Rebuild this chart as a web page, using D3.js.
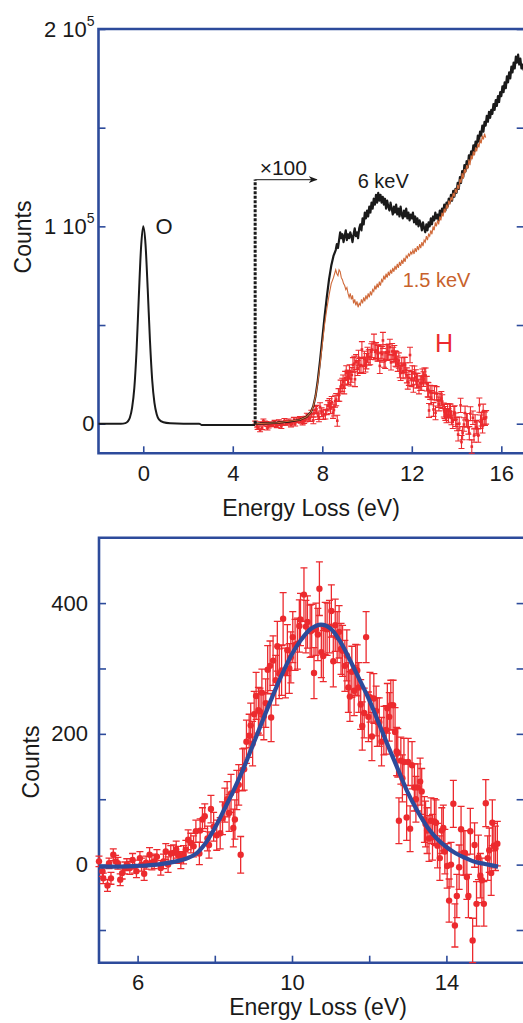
<!DOCTYPE html>
<html>
<head>
<meta charset="utf-8">
<script src="https://cdn.jsdelivr.net/npm/d3@7"></script>
<style>
  body { margin: 0; background: #fff; }
  svg text { font-family: Arial, "Liberation Sans", sans-serif; fill: #1a1a1a; }
</style>
</head>
<body>
<svg id="chart" width="523" height="1023"></svg>
<script>
// ---------- data ----------

// elastic O peak, [energy loss eV, counts]
const oPeak = [[-2,0],[-1,0],[-0.8,300],[-0.7,1000],[-0.6,3000],[-0.5,8000],[-0.4,18000],[-0.3,37000],
  [-0.2,64000],[-0.1,89000],[0,100000],[0.1,91000],[0.2,68000],[0.3,42000],[0.4,22000],[0.5,10500],
  [0.6,4800],[0.7,2200],[0.9,700],[1.2,200],[1.8,0],[2.5,0],[2.6,-600],[5,-600]];

// 6 keV spectrum (x100 region)
const spec6keV = [[5,0],[5.5,200],[6,500],[6.5,1000],[7,2000],[7.3,3500],[7.5,6000],[7.6,9000],[7.7,14000],
  [7.8,22000],[7.9,32000],[8,43000],[8.1,54000],[8.2,64000],[8.3,73000],[8.4,80000],[8.5,85000],
  [8.60,88000],[8.65,91000],[8.70,89000],[8.75,93000],[8.80,97000],[8.85,94000],[8.90,96000],[8.95,92000],
  [9.00,95000],[9.05,98000],[9.10,93000],[9.15,96000],[9.20,94000],[9.25,97000],[9.30,95000],[9.35,92000],
  [9.40,96000],[9.45,99000],[9.50,95000],[9.55,97000],[9.60,94000],[9.65,99000],[9.70,101000],[9.75,98000],
  [9.80,104000],[9.85,101000],[9.90,107000],[9.95,104000],[10.00,108000],[10.05,105000],[10.10,110000],
  [10.15,107000],[10.20,112000],[10.25,109000],[10.30,114000],[10.35,111000],[10.40,116000],[10.45,112000],
  [10.50,117000],[10.55,113000],[10.60,116000],[10.65,112000],[10.70,115000],[10.75,111000],[10.80,114000],
  [10.85,109000],[10.90,113000],[10.95,110000],[11.00,108000],[11.05,112000],[11.10,109000],[11.15,106000],
  [11.20,110000],[11.25,107000],[11.30,111000],[11.35,106000],[11.40,109000],[11.45,105000],[11.50,110000],
  [11.55,106000],[11.60,104000],[11.65,108000],[11.70,105000],[11.75,109000],[11.80,104000],[11.85,107000],
  [11.90,103000],[11.95,106000],[12.00,104000],[12.05,107000],[12.10,102000],[12.15,105000],[12.20,101000],
  [12.25,104000],[12.30,100000],[12.35,103000],[12.40,101000],[12.45,98000],[12.50,102000],[12.55,99000],
  [12.60,97000],[12.65,101000],[12.70,98000],[12.75,102000],[12.80,100000],[12.85,104000],[12.90,101000],
  [12.95,105000],[13.00,103000],[13.05,107000],[13.10,104000],[13.15,106000],[13.20,103000],[13.25,108000],
  [13.30,105000],[13.35,109000],[13.40,107000],[13.45,111000],[13.50,108000],[13.55,112000],[13.60,110000],
  [13.65,114000],[13.70,112000],[13.75,116000],[13.80,113000],[13.85,118000],[13.90,115000],[13.95,119000],
  [14.00,117000],[14.05,122000],[14.10,119000],[14.15,125000],[14.20,122000],[14.25,128000],[14.30,125000],
  [14.35,131000],[14.40,128000],[14.45,133000],[14.50,130000],[14.55,136000],[14.60,133000],[14.65,138000],
  [14.70,136000],[14.75,141000],[14.80,138000],[14.85,143000],[14.90,140000],[14.95,146000],[15.00,143000],
  [15.05,148000],[15.10,146000],[15.15,151000],[15.20,148000],[15.25,153000],[15.30,151000],[15.35,156000],
  [15.40,153000],[15.45,158000],[15.50,155000],[15.55,159000],[15.60,157000],[15.65,162000],[15.70,159000],
  [15.75,164000],[15.80,161000],[15.85,166000],[15.90,163000],[15.95,168000],[16.00,166000],[16.05,171000],
  [16.10,168000],[16.15,173000],[16.20,170000],[16.25,176000],[16.30,173000],[16.35,178000],[16.40,175000],
  [16.45,181000],[16.50,178000],[16.55,183000],[16.60,180000],[16.65,186000],[16.70,183000],[16.75,187000],
  [16.80,182000],[16.85,185000],[16.90,180000],[16.95,182000],[17.00,179000]];

// 1.5 keV spectrum
const spec15keV = [[5,0],[6,500],[7,2000],[7.3,3500],[7.5,6000],[7.6,9000],[7.7,14000],[7.8,21000],[7.9,30000],
  [8,40000],[8.1,50000],[8.2,58000],[8.3,65000],[8.4,71000],
  [8.50,74000],[8.55,76000],[8.60,78000],[8.65,76000],[8.70,75000],[8.75,78000],[8.80,77000],[8.85,74000],
  [8.90,73000],[8.95,71000],[9.00,70000],[9.05,68000],[9.10,69000],[9.15,66000],[9.20,64000],[9.25,66000],
  [9.30,63000],[9.35,65000],[9.40,61000],[9.45,63000],[9.50,60000],[9.55,62000],[9.60,59000],[9.65,61000],
  [9.70,60000],[9.75,63000],[9.80,61000],[9.85,64000],[9.90,62000],[9.95,65000],[10.00,63000],[10.05,66000],
  [10.10,64000],[10.15,67000],[10.20,65000],[10.25,68000],[10.30,67000],[10.35,70000],[10.40,68000],
  [10.45,71000],[10.50,69000],[10.55,72000],[10.60,70000],[10.65,73000],[10.70,72000],[10.75,75000],
  [10.80,73000],[10.85,76000],[10.90,74000],[10.95,77000],[11.00,75000],[11.05,78000],[11.10,76000],
  [11.15,79000],[11.20,77000],[11.25,80000],[11.30,78000],[11.35,81000],[11.40,79000],[11.45,82000],
  [11.50,80000],[11.55,83000],[11.60,81000],[11.65,84000],[11.70,82000],[11.75,85000],[11.80,84000],
  [11.85,86000],[11.90,85000],[11.95,87000],[12.00,86000],[12.05,88000],[12.10,86000],[12.15,89000],
  [12.20,87000],[12.25,90000],[12.30,88000],[12.35,91000],[12.40,89000],[12.45,92000],[12.50,90000],
  [12.55,93000],[12.60,92000],[12.65,95000],[12.70,93000],[12.75,96000],[12.80,95000],[12.85,98000],
  [12.90,96000],[12.95,100000],[13.00,98000],[13.05,102000],[13.10,100000],[13.15,103000],[13.20,101000],
  [13.25,105000],[13.30,103000],[13.35,107000],[13.40,105000],[13.45,109000],[13.50,107000],[13.55,111000],
  [13.60,109000],[13.65,113000],[13.70,111000],[13.75,115000],[13.80,113000],[13.85,117000],[13.90,115000],
  [13.95,119000],[14.00,117000],[14.05,121000],[14.10,119000],[14.15,124000],[14.20,122000],[14.25,127000],
  [14.30,124000],[14.35,129000],[14.40,127000],[14.45,131000],[14.50,129000],[14.55,134000],[14.60,131000],
  [14.65,136000],[14.70,134000],[14.75,138000],[14.80,136000],[14.85,140000],[14.90,138000],[14.95,142000],
  [15.00,140000],[15.05,144000],[15.10,142000],[15.15,146000],[15.20,144000],[15.25,147000],[15.30,145000]];

// H contribution: [energy loss eV, counts, error]
const hPoints = [[5.00,5,8],[5.09,-10,8],[5.11,-21,8],[5.22,-32,9],[5.26,2,8],[5.31,-21,9],[5.37,15,9],[5.43,5,9],
  [5.49,2,9],[5.55,-23,9],[5.60,-13,9],[5.67,-5,9],[5.72,0,9],[5.80,-5,10],[5.87,7,10],[5.92,-3,10],[5.97,-10,10],
  [6.06,10,10],[6.10,0,10],[6.17,-14,10],[6.22,3,10],[6.31,15,11],[6.37,3,11],[6.43,5,11],[6.50,12,11],[6.60,-5,11],
  [6.67,5,11],[6.73,20,12],[6.79,0,12],[6.86,17,12],[6.93,18,12],[7.00,23,13],[7.05,15,13],[7.12,7,13],[7.19,15,14],
  [7.25,23,14],[7.31,38,15],[7.38,33,15],[7.45,28,16],[7.51,51,17],[7.60,17,17],[7.62,52,18],[7.68,69,18],[7.74,74,19],
  [7.81,40,19],[7.85,30,20],[7.90,85,21],[7.97,58,22],[8.05,45,23],[8.14,48,24],[8.20,71,25],[8.26,91,26],[8.32,100,27],
  [8.37,79,28],[8.42,109,29],[8.48,56,29],[8.52,69,30],[8.57,114,30],[8.62,122,31],[8.67,15,28],[8.72,145,32],
  [8.76,146,32],[8.82,188,33],[8.89,197,33],[8.93,213,34],[8.98,185,34],[9.02,230,35],[9.07,258,36],[9.13,236,35],
  [9.17,234,36],[9.22,263,36],[9.27,227,36],[9.32,247,37],[9.37,298,37],[9.43,304,38],[9.46,225,37],[9.51,312,38],
  [9.58,282,38],[9.62,334,38],[9.67,292,38],[9.73,297,38],[9.77,376,40],[9.83,293,38],[9.88,328,39],[9.93,300,38],
  [9.97,317,39],[10.02,348,39],[10.08,336,39],[10.14,338,39],[10.19,365,40],[10.22,375,40],[10.31,413,41],
  [10.36,364,40],[10.40,371,40],[10.47,357,40],[10.51,358,40],[10.57,293,39],[10.62,360,40],[10.67,352,40],
  [10.71,422,41],[10.76,325,39],[10.81,319,39],[10.86,361,40],[10.91,360,40],[10.97,364,40],[11.02,388,40],
  [11.07,311,39],[11.12,366,40],[11.17,348,39],[11.22,356,40],[11.27,330,39],[11.31,327,39],[11.37,304,39],
  [11.42,320,39],[11.46,271,38],[11.50,257,38],[11.55,295,39],[11.61,266,38],[11.65,298,39],[11.69,297,39],
  [11.73,271,38],[11.78,245,38],[11.82,212,37],[11.87,232,38],[11.92,348,39],[11.98,226,38],[12.02,256,38],
  [12.07,196,37],[12.12,254,38],[12.18,235,38],[12.21,218,37],[12.26,218,37],[12.32,188,37],[12.38,205,37],
  [12.44,206,37],[12.47,239,38],[12.52,226,37],[12.56,244,38],[12.62,244,38],[12.67,203,37],[12.71,173,37],
  [12.74,171,37],[12.77,67,35],[12.82,159,36],[12.86,132,36],[12.90,157,36],[12.97,72,35],[13.01,157,36],
  [13.06,55,35],[13.11,152,36],[13.17,118,36],[13.21,100,35],[13.26,118,36],[13.32,127,36],[13.36,112,35],
  [13.43,69,35],[13.46,62,35],[13.50,52,35],[13.55,40,35],[13.60,67,35],[13.64,42,35],[13.69,66,35],[13.73,64,35],
  [13.77,29,34],[13.83,10,34],[13.88,52,35],[13.92,56,35],[13.96,20,34],[14.02,-2,34],[14.07,-55,33],[14.12,0,34],
  [14.18,93,36],[14.22,-93,33],[14.27,-48,33],[14.33,-4,34],[14.38,54,35],[14.44,18,34],[14.48,18,34],[14.53,-19,34],
  [14.57,-48,33],[14.62,51,35],[14.68,-116,34],[14.73,30,34],[14.78,-60,34],[14.83,11,34],[14.88,-17,34],
  [14.92,-24,34],[14.97,-60,34],[15.02,94,36],[15.07,10,34],[15.11,22,34],[15.16,-13,34],[15.19,64,35],
  [15.23,29,34],[15.27,25,34],[15.32,32,34]];

// fitted curve through the H data
const hFit = [[5.0,-3],[5.5,-3],[6.0,-2],[6.5,0],[7.0,5],[7.25,9],[7.5,16],[7.75,32],[8.0,56],[8.25,85],
  [8.5,115],[8.75,148],[9.0,185],[9.25,222],[9.5,258],[9.75,292],[10.0,322],[10.25,345],[10.5,361],[10.75,367],
  [11.0,361],[11.25,341],[11.5,313],[11.75,283],[12.0,252],[12.25,216],[12.5,180],[12.75,145],[13.0,110],
  [13.25,82],[13.5,58],[13.75,40],[14.0,27],[14.25,17],[14.5,10],[14.75,4],[15.0,1],[15.34,-3]];

const hScaleTop = 100;   // H data shown x100 in the upper panel
const zoomStart = 5;     // dashed marker where the x100 region starts

const topXTicks = [0, 4, 8, 12, 16];
const topYTicks = [0, 50000, 100000, 150000, 200000];
const topYLabels = new Map([[0, ["0"]], [100000, ["1 10", "5"]], [200000, ["2 10", "5"]]]);
const botXTicks = [6, 8, 10, 12, 14];
const botXLabels = [6, 10, 14];
const botYTicks = [-100, 0, 100, 200, 300, 400];
const botYLabels = [0, 200, 400];

// ---------- setup ----------
const blue = "#2d4b9b", red = "#ec2a2e", orange = "#d06a3a", ink = "#1a1a1a";
const svg = d3.select("#chart");

const xTop = d3.scaleLinear().domain([-2, 17]).range([98.5, 523.7]);
const yTop = d3.scaleLinear().domain([-15000, 200000]).range([453.3, 29]);
const xBot = d3.scaleLinear().domain([5, 16]).range([99, 523.6]);
const yBot = d3.scaleLinear().domain([-150, 500]).range([962.7, 537.7]);

// frame + ticks for one panel
function drawFrame(x, y, xTicks, xFmt, yTicks, yFmt, padY, padX) {
    const [x0, x1] = x.range();
    const [y0, y1] = y.range();

    const left = svg.append("g")
        .attr("transform", `translate(${x0},0)`)
        .call(d3.axisLeft(y).tickValues(yTicks).tickSize(-7).tickPadding(padY).tickFormat(yFmt));
    const right = svg.append("g")
        .attr("transform", `translate(${x1},0)`)
        .call(d3.axisRight(y).tickValues(yTicks).tickSize(-7).tickFormat(""));
    const bottom = svg.append("g")
        .attr("transform", `translate(0,${y0})`)
        .call(d3.axisBottom(x).tickValues(xTicks).tickSize(-7).tickPadding(padX).tickFormat(xFmt));

    [left, right, bottom].forEach(g => {
        g.select(".domain").remove();
        g.selectAll(".tick line").attr("stroke", blue).attr("stroke-width", 1.6);
        g.selectAll(".tick text").attr("font-size", 22).attr("fill", ink)
            .attr("font-family", "Arial, 'Liberation Sans', sans-serif");
    });

    svg.append("path")
        .attr("d", `M${x1 + 3},${y1}H${x0}V${y0}H${x1 + 3}`)
        .attr("fill", "none")
        .attr("stroke", blue)
        .attr("stroke-width", 2.6);
    return left;
}

// ---------- upper panel ----------
const topLeft = drawFrame(xTop, yTop, topXTicks, d => d, topYTicks, () => "", 4, 12);
topLeft.selectAll(".tick text").each(function(d) {
    const lab = topYLabels.get(d);
    if (!lab) return;
    const t = d3.select(this);
    t.append("tspan").text(lab[0]);
    if (lab[1]) t.append("tspan").attr("dy", -11).attr("font-size", 14).text(lab[1]);
});

// H data x100 with error bars
const topH = svg.append("g");
topH.selectAll("line.err")
    .data(hPoints)
    .join("line")
    .attr("x1", d => xTop(d[0])).attr("x2", d => xTop(d[0]))
    .attr("y1", d => yTop((d[1] - d[2]) * hScaleTop))
    .attr("y2", d => yTop((d[1] + d[2]) * hScaleTop))
    .attr("stroke", red).attr("stroke-width", 1.1);
topH.selectAll("path.cap")
    .data(hPoints)
    .join("path")
    .attr("d", d => {
        const cx = xTop(d[0]);
        const lo = yTop((d[1] - d[2]) * hScaleTop), hi = yTop((d[1] + d[2]) * hScaleTop);
        return `M${cx - 3},${lo}H${cx + 3}M${cx - 3},${hi}H${cx + 3}`;
    })
    .attr("stroke", red).attr("stroke-width", 1.1).attr("fill", "none");
topH.selectAll("rect")
    .data(hPoints)
    .join("rect")
    .attr("x", d => xTop(d[0]) - 1.3)
    .attr("y", d => yTop(d[1] * hScaleTop) - 1.3)
    .attr("width", 2.6).attr("height", 2.6)
    .attr("fill", red);

svg.append("path").datum(oPeak)
    .attr("d", d3.line().x(d => xTop(d[0])).y(d => yTop(d[1])).curve(d3.curveMonotoneX))
    .attr("fill", "none").attr("stroke", ink).attr("stroke-width", 2);

svg.append("path").datum(spec6keV)
    .attr("d", d3.line().x(d => xTop(d[0])).y(d => yTop(d[1])))
    .attr("fill", "none").attr("stroke", ink).attr("stroke-width", 2.2)
    .attr("stroke-linejoin", "round");

svg.append("path").datum(spec15keV)
    .attr("d", d3.line().x(d => xTop(d[0])).y(d => yTop(d[1])))
    .attr("fill", "none").attr("stroke", orange).attr("stroke-width", 1.1);

// x100 marker
const markTop = 123700;
svg.append("line")
    .attr("x1", xTop(zoomStart)).attr("x2", xTop(zoomStart))
    .attr("y1", yTop(0)).attr("y2", yTop(markTop))
    .attr("stroke", ink).attr("stroke-width", 3).attr("stroke-dasharray", "3,1.5");

svg.append("defs").append("marker")
    .attr("id", "arrow")
    .attr("viewBox", "0 0 10 10")
    .attr("refX", 9).attr("refY", 5)
    .attr("markerWidth", 9).attr("markerHeight", 9)
    .attr("markerUnits", "userSpaceOnUse")
    .attr("orient", "auto")
    .append("path").attr("d", "M0,1L10,5L0,9L3,5Z").attr("fill", ink);

svg.append("line")
    .attr("x1", xTop(zoomStart)).attr("x2", xTop(7.75))
    .attr("y1", yTop(markTop)).attr("y2", yTop(markTop))
    .attr("stroke", "#444").attr("stroke-width", 1.4)
    .attr("marker-end", "url(#arrow)");

svg.append("text")
    .attr("x", xTop(5.2)).attr("y", yTop(126200))
    .attr("font-family", "'Liberation Serif', 'Times New Roman', serif")
    .attr("font-size", 21)
    .text("×100");

svg.append("text").attr("x", xTop(0.55)).attr("y", yTop(96000))
    .attr("font-size", 22).text("O");
svg.append("text").attr("x", xTop(9.58)).attr("y", yTop(119600))
    .attr("font-size", 20).text("6 keV");
svg.append("text").attr("x", xTop(11.59)).attr("y", yTop(69500))
    .attr("font-size", 20).style("fill", "#c8622c").text("1.5 keV");
svg.append("text").attr("x", xTop(13.04)).attr("y", yTop(36400))
    .attr("font-size", 25).style("fill", red).text("H");

svg.append("text")
    .attr("x", 311).attr("y", 516)
    .attr("text-anchor", "middle").attr("font-size", 23)
    .text("Energy Loss (eV)");
svg.append("text")
    .attr("transform", "translate(31,237) rotate(-90)")
    .attr("text-anchor", "middle").attr("font-size", 23)
    .text("Counts");

// ---------- lower panel ----------
drawFrame(xBot, yBot, botXTicks, d => botXLabels.includes(d) ? d : "",
          botYTicks, d => botYLabels.includes(d) ? d : "", 11, 11.5);

const botH = svg.append("g");
botH.selectAll("line")
    .data(hPoints)
    .join("line")
    .attr("x1", d => xBot(d[0])).attr("x2", d => xBot(d[0]))
    .attr("y1", d => yBot(d[1] - d[2]))
    .attr("y2", d => yBot(d[1] + d[2]))
    .attr("stroke", red).attr("stroke-width", 1.3);
botH.selectAll("path")
    .data(hPoints)
    .join("path")
    .attr("d", d => {
        const cx = xBot(d[0]);
        const lo = yBot(d[1] - d[2]), hi = yBot(d[1] + d[2]);
        return `M${cx - 3.5},${lo}H${cx + 3.5}M${cx - 3.5},${hi}H${cx + 3.5}`;
    })
    .attr("stroke", red).attr("stroke-width", 1.3).attr("fill", "none");
botH.selectAll("circle")
    .data(hPoints)
    .join("circle")
    .attr("cx", d => xBot(d[0]))
    .attr("cy", d => yBot(d[1]))
    .attr("r", 3.2)
    .attr("fill", red);

svg.append("path").datum(hFit)
    .attr("d", d3.line().x(d => xBot(d[0])).y(d => yBot(d[1])).curve(d3.curveCatmullRom))
    .attr("fill", "none").attr("stroke", blue).attr("stroke-width", 4.2);

svg.append("text")
    .attr("x", 318).attr("y", 1015)
    .attr("text-anchor", "middle").attr("font-size", 23)
    .text("Energy Loss (eV)");
svg.append("text")
    .attr("transform", "translate(39,762) rotate(-90)")
    .attr("text-anchor", "middle").attr("font-size", 23)
    .text("Counts");
</script>
</body>
</html>
